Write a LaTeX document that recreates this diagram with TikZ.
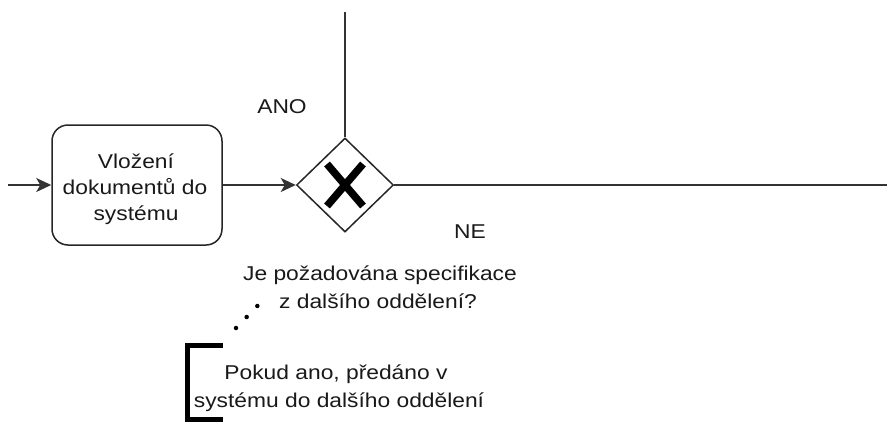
\documentclass[tikz,border=0pt]{standalone}
\usepackage{fontspec}
\setmainfont[FakeStretch=1.14]{Liberation Sans}
\usetikzlibrary{shapes.geometric,arrows.meta}
\begin{document}
\begin{tikzpicture}[x=1pt,y=-1pt,
  flow/.style={draw=black!80,line width=1.4pt},
  arr/.style={flow,-{Stealth[length=15pt,width=14pt,inset=4pt]}},
  lbl/.style={anchor=base,inner sep=0pt,text=black!90,font=\fontsize{20}{26}\selectfont},
  task/.style={draw=black!85,line width=1.5pt,rounded corners=16pt,minimum width=170pt,minimum height=120pt,inner sep=0pt},
  gateway/.style={draw=black!85,line width=1.5pt,diamond,minimum width=97pt,minimum height=94pt,inner sep=0pt}]
\useasboundingbox (0,0) rectangle (887,421);

% task and gateway
\node[task] (vlozeni) at (137,185) {};
\node[lbl] (t1) at (136,168) {Vložení};
\node[lbl] (t2) at (135,194) {dokumentů do};
\node[lbl] (t3) at (136,220) {systému};
\node[gateway] (gw) at (345,185) {};
\draw[line width=7.5pt] (gw.center) ++(-18,-21) -- ++(36,42)
      (gw.center) ++(18,-21) -- ++(-36,42);

% free ends of the flows
\coordinate (start) at (8,185);
\coordinate (up) at (345,12);
\coordinate (right) at (887,185);

\draw[arr] (start) -- (vlozeni.west);
\draw[arr] (vlozeni.east) -- (gw.west);
\draw[flow] (gw.north) -- (up);
\draw[flow] (gw.east) -- (right);

% branch labels
\node[lbl] (ano) at (282,113) {ANO};
\node[lbl] (ne) at (470,238) {NE};

% gateway question
\node[lbl] (q1) at (380,280) {Je požadována specifikace};
\node[lbl] (q2) at (378,308) {z dalšího oddělení?};

% annotation
\draw[line width=5pt] (223,345) -- (187,345) -- (187,419) -- (223,419);
\node[lbl] (a1) at (336,379) {Pokud ano, předáno v};
\node[lbl] (a2) at (339,407) {systému do dalšího oddělení};
\coordinate (assocA) at (236,328);
\coordinate (assocB) at (268,295);
\draw[line width=4.5pt,line cap=round,dash pattern=on 0pt off 15.33pt] (assocA) -- (assocB);
\end{tikzpicture}
\end{document}
